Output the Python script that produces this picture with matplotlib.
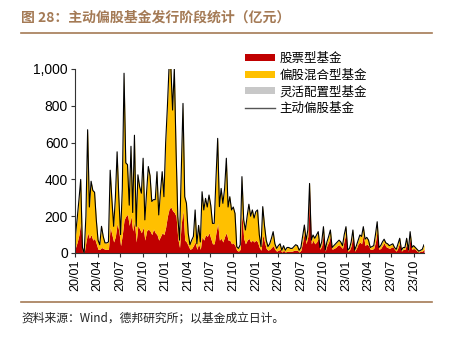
import matplotlib
matplotlib.use("Agg")
import matplotlib.pyplot as plt
import matplotlib.dates as mdates
from matplotlib.lines import Line2D
from matplotlib.patches import Patch
import numpy as np
import pandas as pd

plt.rcParams['font.family'] = ['Noto Sans CJK SC', 'DejaVu Sans']

# weekly issuance (亿元)
dates = pd.date_range("2020-01-03", periods=202, freq="7D")

total = [100, 190, 290, 400, 30, 0, 200, 670, 250, 390,
         340, 330, 180, 70, 45, 145, 90, 55, 55, 60,
         450, 290, 145, 300, 550, 300, 100, 350, 977, 490,
         480, 260, 580, 220, 640, 145, 425, 360, 325, 515,
         180, 330, 470, 420, 280, 290, 290, 442, 207, 330,
         442, 306, 600, 795, 1020, 1010, 777, 1005, 560, 200,
         70, 450, 813, 306, 270, 108, 45, 70, 90, 234,
         50, 150, 60, 333, 234, 297, 250, 315, 260, 161,
         161, 400, 623, 252, 351, 270, 350, 515, 250, 306,
         234, 250, 215, 34, 25, 45, 415, 180, 125, 200,
         265, 200, 234, 190, 225, 234, 100, 35, 252, 150,
         70, 35, 50, 80, 116, 50, 25, 40, 50, 15,
         40, 15, 30, 30, 25, 25, 35, 45, 40, 15,
         30, 90, 152, 70, 125, 378, 70, 98, 80, 98,
         116, 30, 60, 143, 16, 60, 90, 125, 30, 40,
         50, 60, 70, 60, 40, 100, 143, 16, 25, 60,
         125, 16, 40, 70, 98, 90, 143, 75, 85, 70,
         30, 35, 40, 100, 170, 30, 40, 60, 75, 55,
         50, 40, 45, 50, 30, 20, 50, 80, 16, 30,
         30, 80, 16, 116, 30, 40, 30, 20, 10, 15,
         20, 45]

stock = [30, 60, 100, 170, 10, 0, 60, 110, 80, 100,
         70, 80, 50, 20, 20, 30, 25, 20, 20, 20,
         140, 100, 60, 90, 160, 120, 40, 100, 180, 200,
         210, 150, 200, 120, 170, 60, 150, 130, 110, 140,
         70, 120, 130, 120, 100, 130, 110, 100, 70, 90,
         110, 100, 140, 200, 240, 250, 230, 220, 200, 80,
         30, 160, 230, 70, 60, 40, 20, 25, 40, 60,
         20, 50, 20, 90, 70, 100, 90, 110, 80, 50,
         50, 110, 160, 70, 80, 60, 90, 110, 70, 70,
         50, 55, 40, 15, 10, 20, 215, 80, 50, 70,
         80, 60, 70, 60, 70, 60, 30, 15, 100, 60,
         25, 15, 20, 30, 40, 20, 10, 15, 20, 5,
         15, 5, 10, 10, 10, 10, 15, 15, 15, 5,
         15, 60, 110, 50, 90, 340, 50, 70, 50, 60,
         80, 20, 40, 110, 10, 40, 60, 90, 20, 25,
         30, 40, 45, 35, 25, 70, 110, 10, 15, 40,
         100, 10, 25, 50, 60, 50, 100, 40, 50, 40,
         20, 20, 25, 60, 120, 20, 25, 40, 55, 35,
         30, 25, 30, 35, 20, 10, 30, 55, 10, 20,
         20, 50, 10, 80, 20, 25, 20, 10, 5, 10,
         10, 20]

series_names = ["股票型基金", "偏股混合型基金", "灵活配置型基金", "主动偏股基金"]
yticks = [0, 200, 400, 600, 800, 1000]
ytick_labels = ["0", "200", "400", "600", "800", "1,000"]
xtick_dates = pd.date_range("2020-01-01", "2023-10-01", freq="QS")

c_red = "#C00000"
c_yel = "#FFC000"
c_gray = "#C8C8C8"
brown = "#A47A55"

W, H = 451, 337
fig = plt.figure(figsize=(W / 100, H / 100), dpi=100)
ax = fig.add_axes([75 / W, 1 - 253 / H, (424 - 75) / W, (253 - 69) / H])

ax.fill_between(dates, 0, stock, color=c_red, lw=0)
ax.fill_between(dates, stock, total, color=c_yel, lw=0)
ax.plot(dates, total, color="#000000", lw=0.8)

ax.set_ylim(0, 1000)
ax.set_xlim(pd.Timestamp("2020-01-01"), dates[-1])
ax.set_yticks(yticks)
ax.set_yticklabels(ytick_labels, fontfamily="Liberation Sans", fontsize=10)
ax.set_xticks(xtick_dates)
ax.set_xticklabels([d.strftime("%y/%m") for d in xtick_dates], rotation=90,
                   fontfamily="Liberation Sans", fontsize=9)
ax.tick_params(axis="both", direction="out", length=3, width=0.8, color="#333333", pad=2)
for s in ["top", "right"]:
    ax.spines[s].set_visible(False)
for s in ["left", "bottom"]:
    ax.spines[s].set_linewidth(0.8)
    ax.spines[s].set_color("#333333")

handles = [Patch(facecolor=c_red, edgecolor="none"),
           Patch(facecolor=c_yel, edgecolor="none"),
           Patch(facecolor=c_gray, edgecolor="none"),
           Line2D([], [], color="#555555", lw=1)]
fig.legend(handles, series_names, loc="upper left",
           bbox_to_anchor=(236 / W, 1 - 43 / H), frameon=False,
           prop={"family": "Noto Sans CJK SC", "size": 9},
           handlelength=2.4, handleheight=0.5, handletextpad=0.4,
           labelspacing=0.3, borderpad=0.2)

fig.text(21 / W, 1 - 18 / H, "图 28：主动偏股基金发行阶段统计（亿元）",
         fontsize=10, fontweight="bold", color=brown, va="center", ha="left")
fig.add_artist(Line2D([21 / W, 432 / W], [1 - 33 / H, 1 - 33 / H], color=brown, lw=1.2))
fig.add_artist(Line2D([21 / W, 432 / W], [1 - 302 / H, 1 - 302 / H], color=brown, lw=1.2))
fig.text(21 / W, 1 - 318 / H, "资料来源：Wind，德邦研究所；以基金成立日计。",
         fontsize=8.5, color="#222222", va="center", ha="left")

fig.savefig("out.png", dpi=100)
